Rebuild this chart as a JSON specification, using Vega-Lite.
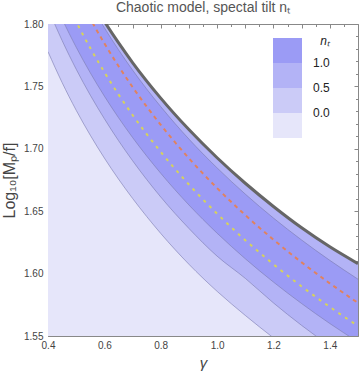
{
  "$schema": "https://vega.github.io/schema/vega-lite/v6.json",
  "autosize": "none",
  "width": 310,
  "height": 312,
  "padding": {"left": 48, "top": 24, "right": 2, "bottom": 41},
  "background": "white",
  "title": {"text": "Chaotic model, spectal tilt nₜ", "font": "Liberation Sans", "fontSize": 14, "fontWeight": "normal", "color": "#555555", "anchor": "middle", "offset": 4},
  "config": {
    "view": {"stroke": null},
    "axis": {"domainColor": "#888888", "tickColor": "#888888", "labelFont": "Liberation Sans", "labelFontSize": 10, "labelColor": "#444444", "grid": false, "titleFont": "Liberation Sans", "titleFontWeight": "normal", "titleColor": "#444444", "zindex": 1, "labelOverlap": false, "labelFlush": false}
  },
  "datasets": {
    "contours": [
      {"c": "E", "gamma": 0.4, "v": 1.8889}, {"c": "E", "gamma": 0.45, "v": 1.8637}, {"c": "E", "gamma": 0.5, "v": 1.8412}, {"c": "E", "gamma": 0.55, "v": 1.8208}, {"c": "E", "gamma": 0.6, "v": 1.8021}, {"c": "E", "gamma": 0.65, "v": 1.785}, {"c": "E", "gamma": 0.7, "v": 1.7691}, {"c": "E", "gamma": 0.8, "v": 1.7406}, {"c": "E", "gamma": 0.9, "v": 1.7154}, {"c": "E", "gamma": 1.0, "v": 1.6928}, {"c": "E", "gamma": 1.1, "v": 1.6724}, {"c": "E", "gamma": 1.2, "v": 1.6538}, {"c": "E", "gamma": 1.3, "v": 1.6367}, {"c": "E", "gamma": 1.4, "v": 1.6215}, {"c": "E", "gamma": 1.5, "v": 1.608},
      {"c": "D", "gamma": 0.4, "v": 1.8862}, {"c": "D", "gamma": 0.45, "v": 1.8603}, {"c": "D", "gamma": 0.5, "v": 1.8372}, {"c": "D", "gamma": 0.55, "v": 1.8162}, {"c": "D", "gamma": 0.6, "v": 1.797}, {"c": "D", "gamma": 0.65, "v": 1.7794}, {"c": "D", "gamma": 0.7, "v": 1.7631}, {"c": "D", "gamma": 0.8, "v": 1.7338}, {"c": "D", "gamma": 0.9, "v": 1.7078}, {"c": "D", "gamma": 1.0, "v": 1.6847}, {"c": "D", "gamma": 1.1, "v": 1.6637}, {"c": "D", "gamma": 1.2, "v": 1.6445}, {"c": "D", "gamma": 1.3, "v": 1.6269}, {"c": "D", "gamma": 1.4, "v": 1.6106}, {"c": "D", "gamma": 1.5, "v": 1.5955},
      {"c": "dashed", "gamma": 0.4, "v": 1.8765}, {"c": "dashed", "gamma": 0.45, "v": 1.8498}, {"c": "dashed", "gamma": 0.5, "v": 1.8259}, {"c": "dashed", "gamma": 0.55, "v": 1.8043}, {"c": "dashed", "gamma": 0.6, "v": 1.7845}, {"c": "dashed", "gamma": 0.65, "v": 1.7663}, {"c": "dashed", "gamma": 0.7, "v": 1.7495}, {"c": "dashed", "gamma": 0.8, "v": 1.7192}, {"c": "dashed", "gamma": 0.9, "v": 1.6924}, {"c": "dashed", "gamma": 1.0, "v": 1.6685}, {"c": "dashed", "gamma": 1.1, "v": 1.6469}, {"c": "dashed", "gamma": 1.2, "v": 1.6272}, {"c": "dashed", "gamma": 1.3, "v": 1.609}, {"c": "dashed", "gamma": 1.4, "v": 1.5922}, {"c": "dashed", "gamma": 1.5, "v": 1.5765},
      {"c": "dotted", "gamma": 0.4, "v": 1.8514}, {"c": "dotted", "gamma": 0.45, "v": 1.8252}, {"c": "dotted", "gamma": 0.5, "v": 1.8018}, {"c": "dotted", "gamma": 0.55, "v": 1.7807}, {"c": "dotted", "gamma": 0.6, "v": 1.7614}, {"c": "dotted", "gamma": 0.65, "v": 1.7436}, {"c": "dotted", "gamma": 0.7, "v": 1.7271}, {"c": "dotted", "gamma": 0.8, "v": 1.6975}, {"c": "dotted", "gamma": 0.9, "v": 1.6714}, {"c": "dotted", "gamma": 1.0, "v": 1.648}, {"c": "dotted", "gamma": 1.1, "v": 1.6268}, {"c": "dotted", "gamma": 1.2, "v": 1.6075}, {"c": "dotted", "gamma": 1.3, "v": 1.5897}, {"c": "dotted", "gamma": 1.4, "v": 1.5733}, {"c": "dotted", "gamma": 1.5, "v": 1.558},
      {"c": "C", "gamma": 0.4, "v": 1.8294}, {"c": "C", "gamma": 0.45, "v": 1.8041}, {"c": "C", "gamma": 0.5, "v": 1.7814}, {"c": "C", "gamma": 0.55, "v": 1.7609}, {"c": "C", "gamma": 0.6, "v": 1.7422}, {"c": "C", "gamma": 0.65, "v": 1.725}, {"c": "C", "gamma": 0.7, "v": 1.7091}, {"c": "C", "gamma": 0.8, "v": 1.6804}, {"c": "C", "gamma": 0.9, "v": 1.655}, {"c": "C", "gamma": 1.0, "v": 1.6324}, {"c": "C", "gamma": 1.1, "v": 1.6119}, {"c": "C", "gamma": 1.2, "v": 1.5932}, {"c": "C", "gamma": 1.3, "v": 1.576}, {"c": "C", "gamma": 1.4, "v": 1.56}, {"c": "C", "gamma": 1.5, "v": 1.5452},
      {"c": "B", "gamma": 0.4, "v": 1.8124}, {"c": "B", "gamma": 0.45, "v": 1.7868}, {"c": "B", "gamma": 0.5, "v": 1.7638}, {"c": "B", "gamma": 0.55, "v": 1.743}, {"c": "B", "gamma": 0.6, "v": 1.7241}, {"c": "B", "gamma": 0.65, "v": 1.7066}, {"c": "B", "gamma": 0.7, "v": 1.6905}, {"c": "B", "gamma": 0.8, "v": 1.6614}, {"c": "B", "gamma": 0.9, "v": 1.6362}, {"c": "B", "gamma": 1.0, "v": 1.614}, {"c": "B", "gamma": 1.1, "v": 1.5962}, {"c": "B", "gamma": 1.2, "v": 1.5765}, {"c": "B", "gamma": 1.3, "v": 1.5585}, {"c": "B", "gamma": 1.4, "v": 1.542}, {"c": "B", "gamma": 1.5, "v": 1.5265},
      {"c": "A", "gamma": 0.4, "v": 1.7778}, {"c": "A", "gamma": 0.45, "v": 1.7531}, {"c": "A", "gamma": 0.5, "v": 1.7309}, {"c": "A", "gamma": 0.55, "v": 1.7109}, {"c": "A", "gamma": 0.6, "v": 1.6926}, {"c": "A", "gamma": 0.65, "v": 1.6758}, {"c": "A", "gamma": 0.7, "v": 1.6603}, {"c": "A", "gamma": 0.8, "v": 1.6322}, {"c": "A", "gamma": 0.9, "v": 1.6075}, {"c": "A", "gamma": 1.0, "v": 1.5858}, {"c": "A", "gamma": 1.1, "v": 1.5665}, {"c": "A", "gamma": 1.2, "v": 1.5485}, {"c": "A", "gamma": 1.3, "v": 1.5315}, {"c": "A", "gamma": 1.4, "v": 1.5157}, {"c": "A", "gamma": 1.5, "v": 1.501}
    ]
  },
  "data": {"name": "contours"},
  "resolve": {"axis": {"x": "independent", "y": "independent"}},
  "encoding": {
    "x": {"field": "gamma", "type": "quantitative", "scale": {"domain": [0.4, 1.5], "nice": false, "zero": false}, "axis": null},
    "y": {"field": "v", "type": "quantitative", "scale": {"domain": [1.55, 1.8], "nice": false, "zero": false}, "axis": null}
  },
  "layer": [
    {
      "transform": [{"filter": "datum.c === 'E'"}],
      "mark": {"type": "area", "interpolate": "monotone", "clip": true},
      "encoding": {
        "x": {"field": "gamma", "type": "quantitative", "scale": {"domain": [0.4, 1.5], "nice": false, "zero": false},
          "axis": {"orient": "bottom", "title": "γ", "titleFontStyle": "italic", "titleFontSize": 15, "titlePadding": 4,
            "values": [0.4, 0.45, 0.5, 0.55, 0.6, 0.65, 0.7, 0.75, 0.8, 0.85, 0.9, 0.95, 1.0, 1.05, 1.1, 1.15, 1.2, 1.25, 1.3, 1.35, 1.4, 1.45, 1.5],
            "labelExpr": "abs(datum.value*5 - round(datum.value*5)) < 0.000001 ? format(datum.value, '.1f') : ''",
            "tickSize": {"condition": {"test": "abs(datum.value*10 - round(datum.value*10)) < 0.000001", "value": -4}, "value": -2.5},
            "labelPadding": 8}},
        "y": {"field": "v", "type": "quantitative", "scale": {"domain": [1.55, 1.8], "nice": false, "zero": false},
          "axis": {"orient": "left", "title": "Log₁₀[Mₚ/f]", "titleFontSize": 16, "titlePadding": 6,
            "values": [1.55, 1.56, 1.57, 1.58, 1.59, 1.6, 1.61, 1.62, 1.63, 1.64, 1.65, 1.66, 1.67, 1.68, 1.69, 1.7, 1.71, 1.72, 1.73, 1.74, 1.75, 1.76, 1.77, 1.78, 1.79, 1.8],
            "labelExpr": "abs(datum.value*20 - round(datum.value*20)) < 0.000001 ? format(datum.value, '.2f') : ''",
            "tickSize": {"condition": {"test": "abs(datum.value*20 - round(datum.value*20)) < 0.000001", "value": -4}, "value": -2.5},
            "labelPadding": 9}},
        "y2": {"datum": 1.55},
        "color": {"datum": 0.75, "type": "quantitative",
          "scale": {"type": "threshold", "domain": [0, 0.5, 1.0], "range": ["#e6e6fa", "#cbcbf7", "#b3b3f6", "#9b9bf5"]},
          "legend": {"type": "gradient", "direction": "vertical", "orient": "none", "legendX": 225, "legendY": 12, "gradientLength": 100, "gradientThickness": 29, "gradientStrokeWidth": 0, "labelFont": "Liberation Sans", "labelFontSize": 12, "labelColor": "#222222", "labelOffset": 11, "format": ".1f", "title": "nₜ", "titleFont": "Liberation Sans", "titleFontStyle": "italic", "titleFontWeight": "normal", "titleFontSize": 12, "titleColor": "#222222", "titleAnchor": "end", "titlePadding": -10}}
      }
    },
    {
      "transform": [{"filter": "datum.c === 'D'"}],
      "mark": {"type": "area", "interpolate": "monotone", "clip": true, "color": "#9b9bf5"},
      "encoding": {
        "x": {"field": "gamma", "type": "quantitative", "scale": {"domain": [0.4, 1.5], "nice": false, "zero": false},
          "axis": {"orient": "top", "title": null, "labels": false,
            "values": [0.4, 0.45, 0.5, 0.55, 0.6, 0.65, 0.7, 0.75, 0.8, 0.85, 0.9, 0.95, 1.0, 1.05, 1.1, 1.15, 1.2, 1.25, 1.3, 1.35, 1.4, 1.45, 1.5],
            "tickSize": {"condition": {"test": "abs(datum.value*10 - round(datum.value*10)) < 0.000001", "value": -4}, "value": -2.5}}},
        "y": {"field": "v", "type": "quantitative", "scale": {"domain": [1.55, 1.8], "nice": false, "zero": false},
          "axis": {"orient": "right", "title": null, "labels": false,
            "values": [1.55, 1.56, 1.57, 1.58, 1.59, 1.6, 1.61, 1.62, 1.63, 1.64, 1.65, 1.66, 1.67, 1.68, 1.69, 1.7, 1.71, 1.72, 1.73, 1.74, 1.75, 1.76, 1.77, 1.78, 1.79, 1.8],
            "tickSize": {"condition": {"test": "abs(datum.value*20 - round(datum.value*20)) < 0.000001", "value": -4}, "value": -2.5}}},
        "y2": {"datum": 1.55}
      }
    },
    {
      "transform": [{"filter": "datum.c === 'C'"}],
      "mark": {"type": "area", "interpolate": "monotone", "clip": true, "color": "#b3b3f6"},
      "encoding": {"y2": {"datum": 1.55}}
    },
    {
      "transform": [{"filter": "datum.c === 'B'"}],
      "mark": {"type": "area", "interpolate": "monotone", "clip": true, "color": "#cbcbf7"},
      "encoding": {"y2": {"datum": 1.55}}
    },
    {
      "transform": [{"filter": "datum.c === 'A'"}],
      "mark": {"type": "area", "interpolate": "monotone", "clip": true, "color": "#e6e6fa"},
      "encoding": {"y2": {"datum": 1.55}}
    },
    {
      "transform": [{"filter": "indexof(['A','B','C','D'], datum.c) >= 0"}],
      "mark": {"type": "line", "interpolate": "monotone", "clip": true, "stroke": "#7c7cb0", "strokeOpacity": 0.6, "strokeWidth": 1},
      "encoding": {"detail": {"field": "c"}}
    },
    {
      "transform": [{"filter": "datum.c === 'E'"}],
      "mark": {"type": "line", "interpolate": "monotone", "clip": true, "stroke": "#666666", "strokeWidth": 3},
      "encoding": {}
    },
    {
      "transform": [{"filter": "datum.c === 'dashed'"}],
      "mark": {"type": "line", "interpolate": "monotone", "clip": true, "stroke": "#e0825f", "strokeWidth": 2, "strokeDash": [4, 4]},
      "encoding": {}
    },
    {
      "transform": [{"filter": "datum.c === 'dotted'"}],
      "mark": {"type": "line", "interpolate": "monotone", "clip": true, "stroke": "#d6d35a", "strokeWidth": 2, "strokeDash": [3, 5]},
      "encoding": {}
    }
  ]
}
